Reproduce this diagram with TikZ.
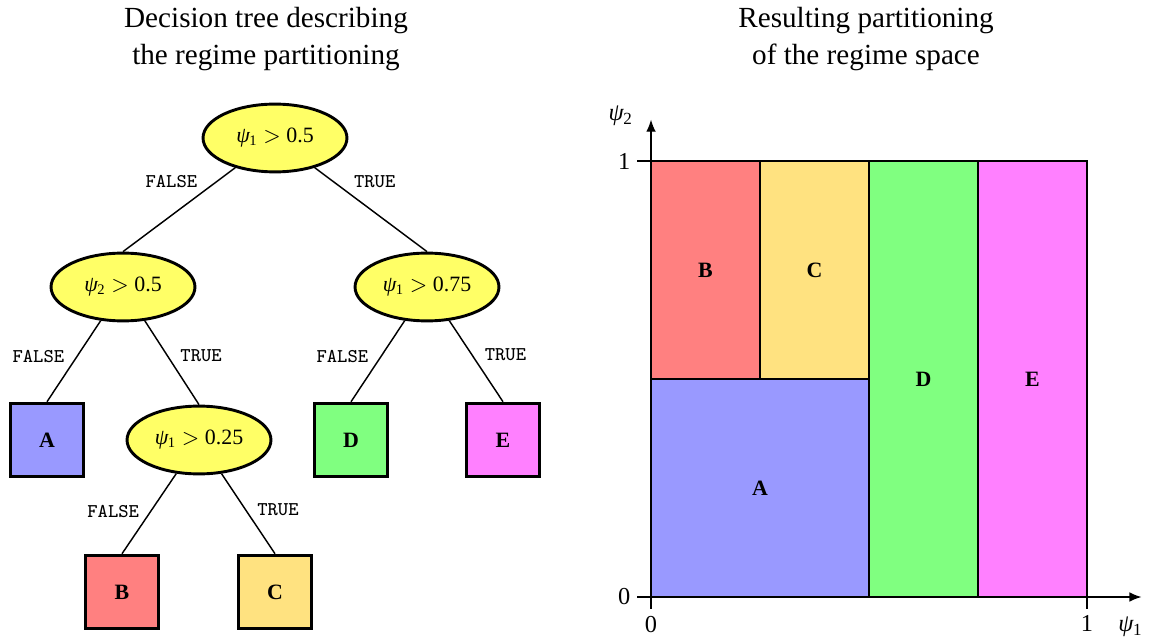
\documentclass[tikz,border=0pt]{standalone}
\usepackage{fontspec}
\setmainfont{Liberation Serif}
\usepackage{tikz}
\usetikzlibrary{shapes.geometric, arrows.meta, positioning}
\definecolor{testfill}{RGB}{255,255,102}
\definecolor{regA}{RGB}{153,153,255}
\definecolor{regB}{RGB}{255,128,128}
\definecolor{regC}{RGB}{255,226,128}
\definecolor{regD}{RGB}{128,255,128}
\definecolor{regE}{RGB}{255,128,255}
\newcommand{\psiof}[1]{\textit{ψ}\kern-0.3pt\textsubscript{#1}}
\tikzset{
  test/.style={ellipse,draw=black,fill=testfill,line width=1.2pt,
    minimum width=2.08cm,minimum height=0.98cm,inner sep=0pt,font=\small},
  leaf/.style={rectangle,draw=black,line width=1.3pt,minimum size=1.06cm,
    inner sep=0pt,font=\small\bfseries},
  branch/.style={line width=0.6pt},
  lbl/.style={font=\footnotesize\ttfamily,inner sep=1pt},
  region/.style={draw=black,line width=0.5pt},
  title/.style={align=center,font=\large}
}

\begin{document}
\begin{tikzpicture}[x=0.01445cm,y=-0.01445cm]
  \useasboundingbox (0,0) rectangle (1154,637);

  % Titles
  \node[title] (ttree) at (266,39) {Decision tree describing\\[1.5pt]the regime partitioning};
  \node[title] (tspace) at (866,39) {Resulting partitioning\\[1.5pt]of the regime space};

  % Decision tree
  \node[test] (root) at (275,138) {\psiof{1} $>$ 0.5};
  \node[test] (n2) at (123,287) {\psiof{2} $>$ 0.5};
  \node[test] (n3) at (427,287) {\psiof{1} $>$ 0.75};
  \node[test] (n4) at (199,440) {\psiof{1} $>$ 0.25};
  \node[leaf,fill=regA] (A) at (47,440) {A};
  \node[leaf,fill=regD] (D) at (351,440) {D};
  \node[leaf,fill=regE] (E) at (503,440) {E};
  \node[leaf,fill=regB] (B) at (122,592) {B};
  \node[leaf,fill=regC] (C) at (275,592) {C};

  \draw[branch] (root) -- node[lbl,pos=.17,left=6.5pt] {FALSE} (n2.north);
  \draw[branch] (root) -- node[lbl,pos=.17,right=7pt] {TRUE} (n3.north);
  \draw[branch] (n2) -- node[lbl,pos=.44,left=4pt] {FALSE} (A.north);
  \draw[branch] (n2) -- node[lbl,pos=.42,right=4pt] {TRUE} (n4.north);
  \draw[branch] (n3) -- node[lbl,pos=.44,left=4pt] {FALSE} (D.north);
  \draw[branch] (n3) -- node[lbl,pos=.42,right=4pt] {TRUE} (E.north);
  \draw[branch] (n4) -- node[lbl,pos=.47,left=3.5pt] {FALSE} (B.north);
  \draw[branch] (n4) -- node[lbl,pos=.45,right=3.5pt] {TRUE} (C.north);

  % Regime space
  \begin{scope}[shift={(651,597)},x=6.3cm,y=6.3cm]
    \filldraw[region,fill=regA] (0,0) rectangle (0.5,0.5);
    \filldraw[region,fill=regB] (0,0.5) rectangle (0.25,1);
    \filldraw[region,fill=regC] (0.25,0.5) rectangle (0.5,1);
    \filldraw[region,fill=regD] (0.5,0) rectangle (0.75,1);
    \filldraw[region,fill=regE] (0.75,0) rectangle (1,1);
    \node[font=\small\bfseries] (rA) at (0.25,0.25) {A};
    \node[font=\small\bfseries] (rB) at (0.125,0.75) {B};
    \node[font=\small\bfseries] (rC) at (0.375,0.75) {C};
    \node[font=\small\bfseries] (rD) at (0.625,0.5) {D};
    \node[font=\small\bfseries] (rE) at (0.875,0.5) {E};

    % Axes
    \draw[-{Latex[length=5pt,width=4pt]},line width=0.6pt] (0,0) -- (1.125,0);
    \draw[-{Latex[length=5pt,width=4pt]},line width=0.6pt] (0,0) -- (0,1.095);
    \node (xlab) at (1.10,-0.068) {\psiof{1}};
    \node (ylab) at (-0.069,1.103) {\psiof{2}};

    % ticks
    \foreach \v in {0,1} {
      \draw[line width=0.5pt] (\v,0) -- (\v,-0.028) node[below,inner sep=1pt,yshift=-1.5pt] {\v};
      \draw[line width=0.5pt] (0,\v) -- (-0.032,\v) node[left,inner sep=1pt,xshift=-1.5pt] {\v};
    }
  \end{scope}
\end{tikzpicture}
\end{document}
